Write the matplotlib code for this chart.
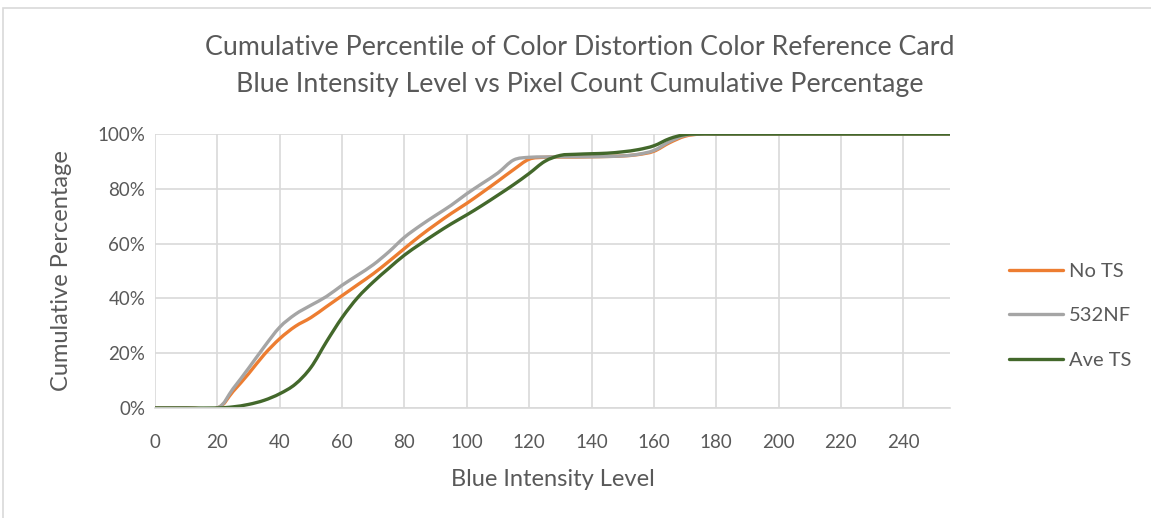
import matplotlib
matplotlib.use("Agg")
import matplotlib.pyplot as plt
from matplotlib.patches import Rectangle, PathPatch
from matplotlib.path import Path
from matplotlib.lines import Line2D

# blue intensity levels and cumulative pixel percentages per filter
levels = [0, 10, 20, 25, 30, 35, 40, 45, 50, 55, 60, 65, 70, 75, 80, 85, 90, 95,
          100, 105, 110, 115, 120, 125, 130, 135, 140, 145, 150, 155, 160, 165,
          170, 175, 180, 200, 220, 240, 255]
no_ts = [0, 0, 0, 6, 12.5, 19.5, 25.3, 29.8, 33, 37, 41, 45, 49, 53.5, 58.2, 62.8,
         67, 71, 74.7, 78.7, 82.8, 87, 90.8, 91.5, 91.6, 91.6, 91.7, 91.8, 92,
         92.5, 93.7, 96.8, 99.2, 100, 100, 100, 100, 100, 100]
nf532 = [0, 0, 0, 7, 14.5, 22.3, 29.5, 34.2, 37.5, 40.7, 44.8, 48.5, 52.3, 57,
         62.3, 66.5, 70.3, 74, 78.2, 82, 85.8, 90.5, 91.5, 91.6, 91.7, 91.7,
         91.7, 91.8, 92, 92.6, 94, 97.2, 99.5, 100, 100, 100, 100, 100, 100]
ave_ts = [0, 0, 0, 0.4, 1.3, 2.8, 5.2, 8.7, 14.8, 24.2, 33, 40.3, 46, 51,
          55.8, 59.8, 63.6, 67.2, 70.5, 74, 77.7, 81.5, 85.6, 90, 92.2, 92.6,
          92.8, 93, 93.5, 94.3, 95.7, 98.3, 99.8, 100, 100, 100, 100, 100, 100]

series = [("No TS", no_ts, "#ED7D31"),
          ("532NF", nf532, "#A5A5A5"),
          ("Ave TS", ave_ts, "#43682B")]

x_ticks = list(range(0, 241, 20))
y_ticks = [0, 20, 40, 60, 80, 100]

text_color = "#595959"
grid_color = "#D9D9D9"
plt.rcParams["font.family"] = ["Lato", "DejaVu Sans"]


def smooth_path(xs, ys):
    # cubic bezier through every point, spreadsheet-style smoothed line
    pts = list(zip(xs, ys))
    verts = [pts[0]]
    codes = [Path.MOVETO]
    n = len(pts)
    for i in range(n - 1):
        p0 = pts[max(i - 1, 0)]
        p1 = pts[i]
        p2 = pts[i + 1]
        p3 = pts[min(i + 2, n - 1)]
        c1 = (p1[0] + (p2[0] - p0[0]) / 6, p1[1] + (p2[1] - p0[1]) / 6)
        c2 = (p2[0] - (p3[0] - p1[0]) / 6, p2[1] - (p3[1] - p1[1]) / 6)
        verts += [c1, c2, p2]
        codes += [Path.CURVE4] * 3
    return Path(verts, codes)


fig = plt.figure(figsize=(11.51, 5.18), dpi=100)
fig.patches.append(Rectangle((3 / 1151, -0.1), 1.1, 1.1 - 8 / 518,
                             transform=fig.transFigure, fill=False,
                             edgecolor=grid_color, linewidth=1.2))
ax = fig.add_axes([0.1347, 0.2124, 0.6907, 0.5289])

handles = []
for name, values, color in series:
    ax.add_patch(PathPatch(smooth_path(levels, values), fill=False,
                           edgecolor=color, lw=2.4, capstyle="round",
                           joinstyle="round"))
    handles.append(Line2D([], [], color=color, lw=2.4, label=name,
                          solid_capstyle="round"))

ax.set_xlim(0, 255)
ax.set_ylim(0, 100)
ax.set_xticks(x_ticks)
ax.set_yticks(y_ticks)
ax.set_yticklabels([f"{v}%" for v in y_ticks])
ax.grid(True, color=grid_color, linewidth=1.2)
ax.set_axisbelow(True)
ax.tick_params(length=0, labelsize=13.5, colors=text_color)
ax.tick_params(axis="x", pad=19)
ax.tick_params(axis="y", pad=7)
for side in ["top", "right", "left"]:
    ax.spines[side].set_visible(False)
ax.spines["bottom"].set_color(grid_color)
ax.spines["bottom"].set_linewidth(1.2)

ax.set_xlabel("Blue Intensity Level", fontsize=17, color=text_color, labelpad=13)
ax.set_ylabel("Cumulative Percentage", fontsize=17, color=text_color, labelpad=18)

fig.text(0.504, 0.908, "Cumulative Percentile of Color Distortion Color Reference Card",
         ha="center", va="center", fontsize=19.3, color=text_color)
fig.text(0.504, 0.836, "Blue Intensity Level vs Pixel Count Cumulative Percentage",
         ha="center", va="center", fontsize=19.3, color=text_color)

ax.legend(handles=handles, loc="center left", bbox_to_anchor=(1.051, 0.336),
          frameon=False, fontsize=14.5, labelcolor=text_color,
          handlelength=2.7, handletextpad=0.3, labelspacing=1.35)

fig.savefig("out.png", dpi=100)
